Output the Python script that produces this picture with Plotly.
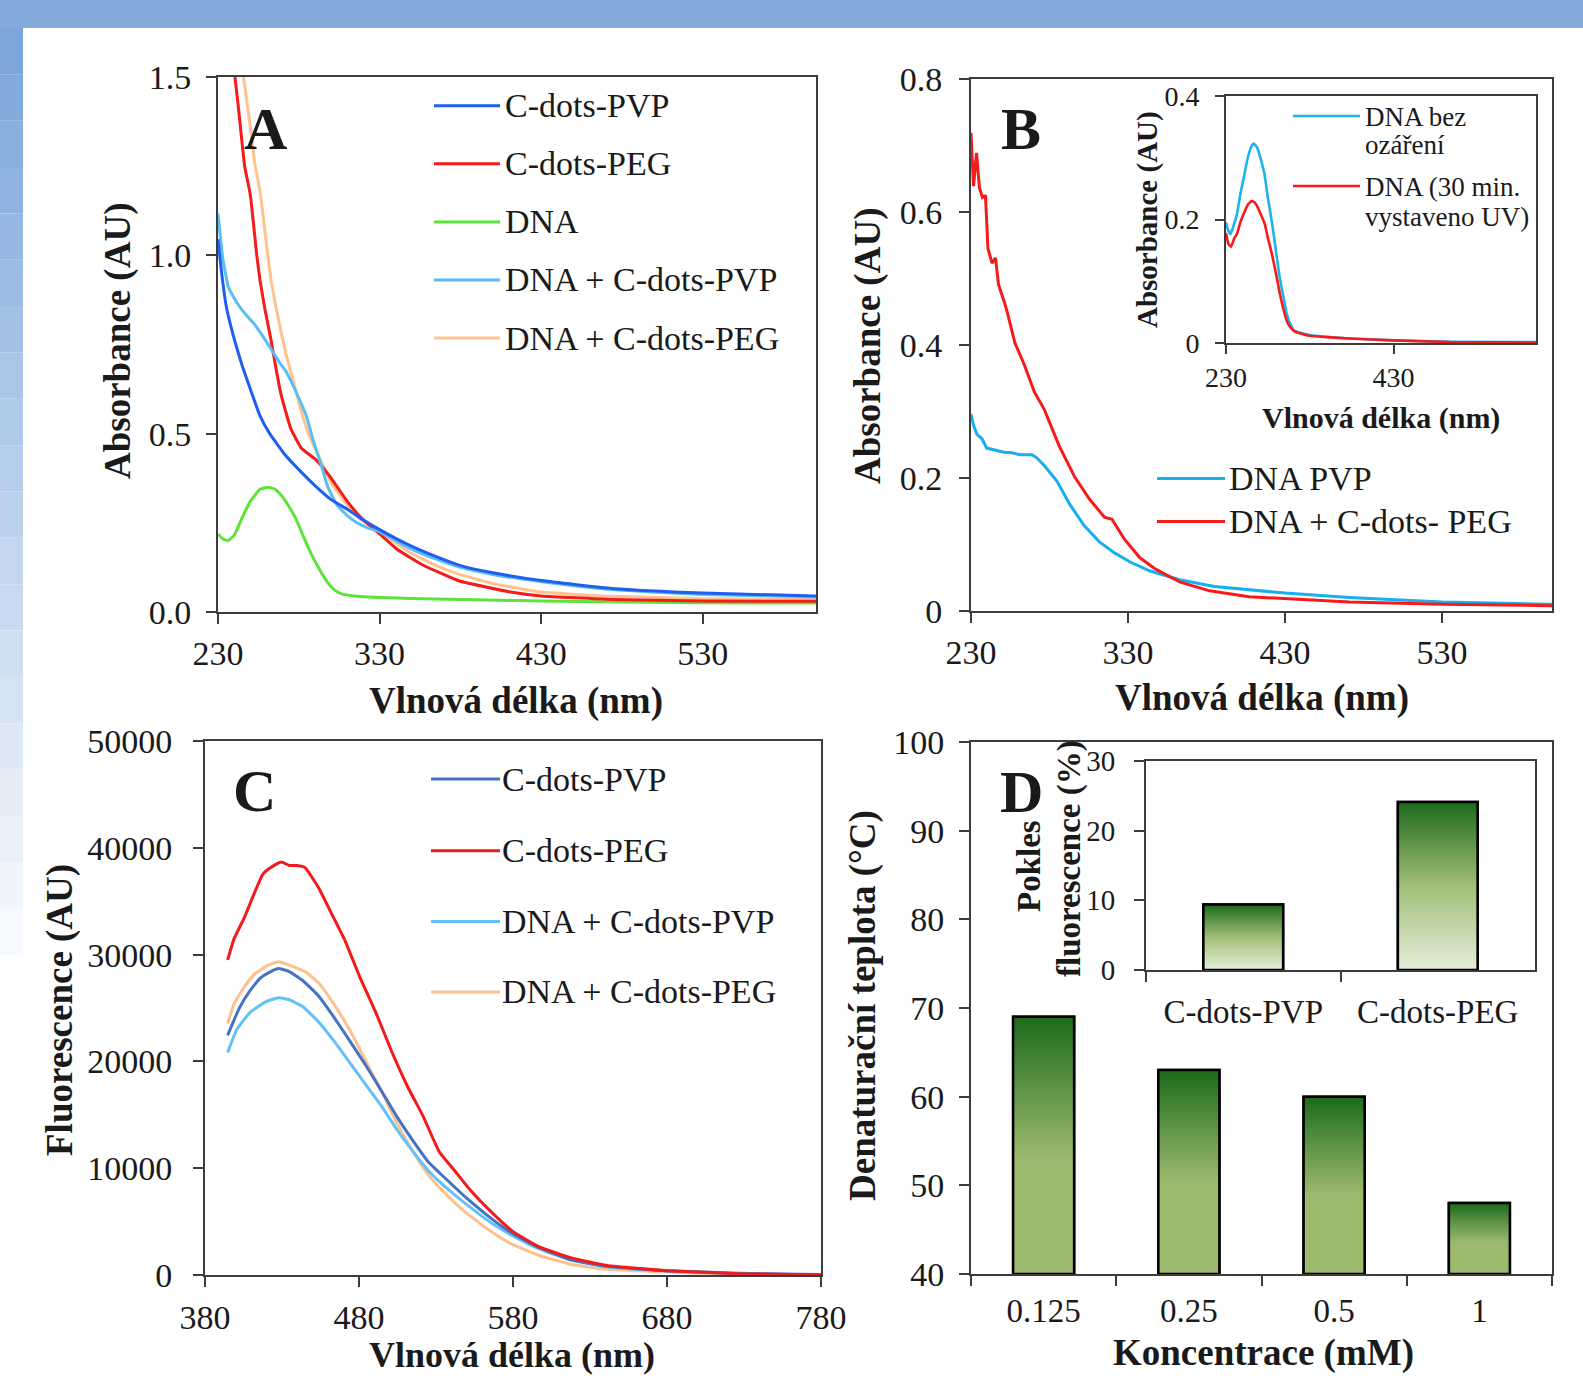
import plotly.graph_objects as go

W, H = 1583, 1381
FONT = "Liberation Serif, Times New Roman, serif"
AX = "#3c3c3c"
TXT = "#1a1a1a"

# ---------------- data ----------------
# Panel A : absorbance spectra
A_PVP_X = [230, 232, 235, 238, 241, 245, 250, 256, 262, 272, 282, 291, 300, 310, 320, 330, 348, 365, 380, 400, 430, 474, 530, 600]
A_PVP_Y = [1.045, 0.96, 0.86, 0.80, 0.75, 0.69, 0.625, 0.55, 0.50, 0.438, 0.39, 0.35, 0.315, 0.288, 0.258, 0.231, 0.188, 0.155, 0.13, 0.11, 0.088, 0.066, 0.053, 0.045]

A_PEG_X = [240.5, 242.5, 246.5, 250, 254, 256, 259, 262.5, 266, 269, 275, 281.5, 291, 300, 310, 319, 330, 341, 357, 379, 411, 430, 474, 530, 600]
A_PEG_Y = [1.5, 1.42, 1.25, 1.17, 1.0, 0.93, 0.85, 0.77, 0.68, 0.61, 0.515, 0.46, 0.425, 0.375, 0.31, 0.262, 0.219, 0.175, 0.131, 0.0875, 0.056, 0.045, 0.035, 0.031, 0.030]

A_DNA_X = [230, 233, 236, 240, 245, 250, 256, 261, 265, 269, 274, 278, 283, 288, 293, 297, 302, 307, 316, 348, 430, 530, 600]
A_DNA_Y = [0.219, 0.205, 0.20, 0.215, 0.265, 0.31, 0.344, 0.35, 0.345, 0.328, 0.295, 0.263, 0.21, 0.16, 0.118, 0.088, 0.062, 0.05, 0.044, 0.038, 0.031, 0.026, 0.025]

A_DNA_PVP_X = [230, 233, 236.5, 242, 248, 252, 256, 262.5, 268, 272, 278, 284.6, 289, 294, 298, 303.6, 310, 316, 323, 330, 348, 365, 380, 400, 430, 474, 530, 600]
A_DNA_PVP_Y = [1.117, 0.99, 0.91, 0.865, 0.83, 0.81, 0.785, 0.74, 0.70, 0.675, 0.62, 0.55, 0.48, 0.41, 0.35, 0.30, 0.27, 0.25, 0.235, 0.225, 0.18, 0.148, 0.125, 0.105, 0.085, 0.063, 0.049, 0.042]

A_DNA_PEG_X = [245.8, 250, 253, 256, 262.5, 267, 272, 277, 281.5, 286, 291, 300, 310, 319, 330, 348, 365, 379, 400, 430, 474, 530, 600]
A_DNA_PEG_Y = [1.5, 1.36, 1.25, 1.18, 0.94, 0.83, 0.725, 0.64, 0.5625, 0.50, 0.45, 0.3625, 0.30, 0.256, 0.225, 0.169, 0.13, 0.106, 0.08, 0.056, 0.044, 0.0375, 0.035]

A_NAMES = ["C-dots-PVP", "C-dots-PEG", "DNA", "DNA + C-dots-PVP", "DNA + C-dots-PEG"]
A_COLORS = ["#1F5FF0", "#F51B1B", "#5EE33A", "#5BBDF5", "#FFC38E"]

# Panel B : absorbance spectra
B_PVP_X = [230, 231.5, 233.8, 237, 240, 245, 251, 256, 261, 268.9, 272, 276.8, 284.8, 292.7, 302.3, 311.8, 321.4, 331, 343.7, 362.8, 385, 430, 471, 530, 600]
B_PVP_Y = [0.296, 0.28, 0.2655, 0.259, 0.245, 0.242, 0.2387, 0.238, 0.235, 0.235, 0.23, 0.2185, 0.195, 0.161, 0.1277, 0.104, 0.0874, 0.074, 0.0605, 0.047, 0.037, 0.0269, 0.0202, 0.0134, 0.010]

B_PEG_X = [230, 231.6, 233.5, 235.4, 237.3, 239.2, 240.8, 243.4, 245.6, 247.5, 251.3, 253, 258, 264, 270.4, 276.8, 286, 296, 305.5, 315, 319.8, 327.8, 337.3, 346.9, 362.8, 382, 407, 430, 471, 530, 600]
B_PEG_Y = [0.719, 0.639, 0.689, 0.636, 0.622, 0.625, 0.545, 0.523, 0.531, 0.491, 0.464, 0.45, 0.403, 0.37, 0.329, 0.3025, 0.249, 0.2017, 0.168, 0.141, 0.138, 0.1076, 0.0807, 0.0639, 0.0437, 0.0303, 0.0215, 0.0188, 0.0134, 0.010, 0.008]

B_NAMES = ["DNA PVP", "DNA + C-dots- PEG"]
B_COLORS = ["#19AEEE", "#F51B1B"]

# Inset of panel B
IB_BLUE_X = [230, 232, 235.4, 239, 243, 247, 252, 256, 261, 263, 267, 271, 276, 280, 285, 290, 294, 298.5, 302.8, 307, 311.8, 320, 329.7, 350, 377.5, 430, 497, 600]
IB_BLUE_Y = [0.195, 0.185, 0.176, 0.19, 0.2083, 0.24, 0.273, 0.30, 0.32, 0.323, 0.317, 0.30, 0.273, 0.235, 0.194, 0.145, 0.107, 0.075, 0.0456, 0.03, 0.02, 0.016, 0.013, 0.010, 0.0072, 0.0043, 0.002, 0.0015]
IB_RED_X = [230, 233, 236, 240, 243, 247, 252, 256, 260.7, 264, 267, 271, 276, 280, 285, 290, 294, 298.5, 302.8, 307, 311.8, 320, 329.7, 350, 377.5, 430, 497, 600]
IB_RED_Y = [0.178, 0.16, 0.156, 0.17, 0.176, 0.195, 0.212, 0.224, 0.23, 0.228, 0.222, 0.21, 0.194, 0.17, 0.143, 0.11, 0.0817, 0.055, 0.0347, 0.025, 0.0188, 0.015, 0.0116, 0.0095, 0.0072, 0.0043, 0.0015, 0.0007]
IB_COLORS = ["#1DB3F0", "#F51B1B"]

# Panel C : fluorescence spectra
C_PVP_X = [394.7, 402.2, 409, 415.9, 422.7, 427.8, 434.7, 443.2, 453.5, 463.7, 474, 484.2, 494.5, 504.7, 515, 525.2, 535.5, 549, 566, 580, 597, 617.4, 641, 680, 726.8, 780]
C_PVP_Y = [22440, 24960, 26580, 27800, 28410, 28690, 28410, 27600, 26180, 24150, 21920, 19680, 17250, 14810, 12580, 10550, 9130, 7310, 5280, 3860, 2560, 1420, 810, 400, 160, 40]

C_PEG_X = [394.7, 398.8, 405.6, 412.5, 417.6, 422.7, 429.5, 434.7, 439.8, 444.9, 453.5, 462, 470.5, 480.8, 491, 501.3, 511.5, 521.8, 532, 542.3, 552.5, 566, 580, 597, 617.4, 641, 680, 726.8, 780]
C_PEG_Y = [29500, 31450, 33480, 35920, 37540, 38150, 38680, 38350, 38350, 38150, 36320, 33890, 31450, 27800, 24550, 20900, 17650, 14810, 11570, 9740, 7910, 5880, 4060, 2640, 1620, 890, 400, 120, 0]

C_DNA_PVP_X = [394.7, 400.5, 409, 419.3, 427.8, 434.7, 443.2, 453.5, 463.7, 474, 484.2, 494.5, 504.7, 515, 525.2, 535.5, 549, 566, 580, 597, 617.4, 641, 680, 726.8, 780]
C_DNA_PVP_Y = [20820, 22930, 24550, 25570, 25970, 25770, 25160, 23740, 21920, 19890, 17860, 15830, 13600, 11570, 9740, 8320, 6700, 4870, 3650, 2440, 1420, 770, 370, 120, 0]

C_DNA_PEG_X = [394.7, 398.8, 405.6, 412.5, 421, 427.8, 434.7, 444.9, 453.5, 463.7, 474, 484.2, 494.5, 504.7, 515, 525.2, 535.5, 549, 566, 580, 597, 617.4, 641, 680, 726.8, 780]
C_DNA_PEG_Y = [23540, 25370, 26990, 28210, 29020, 29340, 29020, 28410, 27390, 25370, 22930, 20090, 17250, 14200, 11570, 9330, 7710, 5880, 4060, 2840, 1830, 1010, 530, 280, 80, 0]

C_NAMES = ["C-dots-PVP", "C-dots-PEG", "DNA + C-dots-PVP", "DNA + C-dots-PEG"]
C_COLORS = ["#4472C4", "#F21A1A", "#63C1F8", "#FCC18C"]

# Panel D : denaturation temperature
D_CONC = ["0.125", "0.25", "0.5", "1"]
D_TEMP = [69, 63, 60, 48]
D_YMIN, D_YMAX = 40, 100

# Inset of panel D : fluorescence decrease
ID_CAT = ["C-dots-PVP", "C-dots-PEG"]
ID_DROP = [9.4, 24.1]
ID_YMIN, ID_YMAX = 0, 30

# ---------------- helpers ----------------
def dx(a, b):
    return [a / W, b / W]

def dy(top, bot):
    return [1 - bot / H, 1 - top / H]

def axis(domain, rng, fsize=34, lw=2, tl=10, standoff=10, **kw):
    d = dict(domain=domain, showgrid=False, zeroline=False, showline=True,
             mirror=True, linecolor=AX, linewidth=lw, ticks="outside",
             ticklen=tl, tickwidth=lw, tickcolor=AX,
             tickfont=dict(family=FONT, size=fsize, color=TXT),
             ticklabelstandoff=standoff, fixedrange=True, automargin=False)
    if rng is not None:
        d["range"] = rng
    d.update(kw)
    return d

fig = go.Figure()

def line_trace(x, y, color, name, xa, ya, width=3, shape="spline"):
    fig.add_trace(go.Scatter(x=x, y=y, mode="lines", name=name, showlegend=False,
                             line=dict(color=color, width=width, shape=shape, smoothing=0.4),
                             xaxis=xa, yaxis=ya, hoverinfo="x+y+name"))

# Panel A traces
A_SERIES = [(A_PVP_X, A_PVP_Y), (A_PEG_X, A_PEG_Y), (A_DNA_X, A_DNA_Y),
            (A_DNA_PVP_X, A_DNA_PVP_Y), (A_DNA_PEG_X, A_DNA_PEG_Y)]
for i in [2, 4, 1, 3, 0]:
    line_trace(A_SERIES[i][0], A_SERIES[i][1], A_COLORS[i], A_NAMES[i], "x", "y")

# Panel B traces
line_trace(B_PVP_X, B_PVP_Y, B_COLORS[0], B_NAMES[0], "x2", "y2", shape="linear")
line_trace(B_PEG_X, B_PEG_Y, B_COLORS[1], B_NAMES[1], "x2", "y2", shape="linear")

# Inset B traces
line_trace(IB_BLUE_X, IB_BLUE_Y, IB_COLORS[0], "DNA bez ozáření", "x3", "y3", width=2.6)
line_trace(IB_RED_X, IB_RED_Y, IB_COLORS[1], "DNA (30 min. vystaveno UV)", "x3", "y3", width=2.6)

# Panel C traces
C_SERIES = [(C_PVP_X, C_PVP_Y), (C_PEG_X, C_PEG_Y), (C_DNA_PVP_X, C_DNA_PVP_Y), (C_DNA_PEG_X, C_DNA_PEG_Y)]
for i in [3, 2, 0, 1]:
    line_trace(C_SERIES[i][0], C_SERIES[i][1], C_COLORS[i], C_NAMES[i], "x4", "y4")

# Panel D bars (gradient filled)
MAIN_SCALE = [[0, "#9cb96e"], [0.45, "#9cb96e"], [0.72, "#5f9446"], [1, "#1c6a1c"]]
INSET_SCALE = [[0, "#e3efda"], [0.5, "#a2bf77"], [1, "#1c6a1c"]]
BAR_W_MAIN = 0.42
BAR_W_INSET = 0.41

fig.add_trace(go.Bar(x=D_CONC, y=D_TEMP, width=BAR_W_MAIN, marker=dict(color="#9cb96e", line=dict(color="black", width=2.5)),
                     xaxis="x5", yaxis="y5", showlegend=False, name="Denaturační teplota"))
for i, v in enumerate(D_TEMP):
    h = BAR_W_MAIN / 2
    fig.add_trace(go.Scatter(x=[i - h, i - h, i + h, i + h, i - h], y=[D_YMIN, v, v, D_YMIN, D_YMIN],
                             mode="lines", fill="toself", line=dict(color="black", width=2.5),
                             fillgradient=dict(type="vertical", colorscale=MAIN_SCALE),
                             xaxis="x7", yaxis="y5", showlegend=False, hoverinfo="skip"))

fig.add_trace(go.Bar(x=ID_CAT, y=ID_DROP, width=BAR_W_INSET, marker=dict(color="#a2bf77", line=dict(color="black", width=2.5)),
                     xaxis="x6", yaxis="y6", showlegend=False, name="Pokles fluorescence"))
for i, v in enumerate(ID_DROP):
    h = BAR_W_INSET / 2
    fig.add_trace(go.Scatter(x=[i - h, i - h, i + h, i + h, i - h], y=[ID_YMIN, v, v, ID_YMIN, ID_YMIN],
                             mode="lines", fill="toself", line=dict(color="black", width=2.5),
                             fillgradient=dict(type="vertical", colorscale=INSET_SCALE),
                             xaxis="x8", yaxis="y6", showlegend=False, hoverinfo="skip"))

# ---------------- axes ----------------
layout = dict(
    width=W, height=H, margin=dict(l=0, r=0, t=0, b=0, pad=0, autoexpand=False),
    paper_bgcolor="white", plot_bgcolor="white", showlegend=False,
    font=dict(family=FONT, color=TXT),
    xaxis=axis(dx(218, 816), [230, 600], tickvals=[230, 330, 430, 530], anchor="y", standoff=0),
    yaxis=axis(dy(77, 612), [0, 1.5], tickvals=[0, 0.5, 1.0, 1.5], tickformat=".1f", anchor="x", standoff=8),
    xaxis2=axis(dx(971, 1552), [230, 600], tickvals=[230, 330, 430, 530], anchor="y2", standoff=0),
    yaxis2=axis(dy(79, 611), [0, 0.8], tickvals=[0, 0.2, 0.4, 0.6, 0.8], ticktext=["0", "0.2", "0.4", "0.6", "0.8"], anchor="x2", standoff=10),
    xaxis3=axis(dx(1226, 1536), [230, 600], fsize=28, lw=1.6, tl=9, tickvals=[230, 430], anchor="y3", standoff=0),
    yaxis3=axis(dy(96, 343), [0, 0.4], fsize=28, lw=1.6, tl=9, tickvals=[0, 0.2, 0.4], ticktext=["0", "0.2", "0.4"], anchor="x3", standoff=10),
    xaxis4=axis(dx(205, 821), [380, 780], tickvals=[380, 480, 580, 680, 780], anchor="y4", standoff=1),
    yaxis4=axis(dy(741, 1275), [0, 50000], tickvals=[0, 10000, 20000, 30000, 40000, 50000], tickformat="d", anchor="x4", standoff=14),
    xaxis5=axis(dx(971, 1552), None, fsize=33, type="category", tickson="boundaries", anchor="y5", standoff=6),
    yaxis5=axis(dy(742, 1274), [D_YMIN, D_YMAX], dtick=10, anchor="x5", standoff=8),
    xaxis6=axis(dx(1146, 1535), None, fsize=33, lw=1.8, type="category", tickson="boundaries", anchor="y6", standoff=11),
    yaxis6=axis(dy(761, 970), [ID_YMIN, ID_YMAX], fsize=29, lw=1.8, dtick=10, anchor="x6", standoff=13),
    xaxis7=dict(overlaying="x5", range=[-0.5, len(D_CONC) - 0.5], visible=False, anchor="y5", fixedrange=True),
    xaxis8=dict(overlaying="x6", range=[-0.5, len(ID_CAT) - 0.5], visible=False, anchor="y6", fixedrange=True),
)
fig.update_layout(**layout)

# ---------------- background frame ----------------
shapes = []
shapes.append(dict(type="rect", xref="paper", yref="paper", x0=0, x1=1, y0=1 - 28 / H, y1=1,
                   fillcolor="#82AADB", line=dict(width=0), layer="below"))
n_bands = 20
top, bot = 28, 955
c0 = (124, 166, 218)
c1 = (246, 249, 253)
for k in range(n_bands):
    t = k / (n_bands - 1)
    col = tuple(int(round(c0[j] + (c1[j] - c0[j]) * t)) for j in range(3))
    y_a = top + (bot - top) * k / n_bands
    y_b = top + (bot - top) * (k + 1) / n_bands
    shapes.append(dict(type="rect", xref="paper", yref="paper", x0=0, x1=23 / W,
                       y0=1 - y_b / H, y1=1 - y_a / H,
                       fillcolor="rgb(%d,%d,%d)" % col, line=dict(width=0), layer="below"))

annotations = []

def ann(text, px, py, size, bold=False, angle=0, xanchor="center"):
    t = "<b>%s</b>" % text if bold else text
    annotations.append(dict(x=px / W, y=1 - py / H, xref="paper", yref="paper", text=t,
                            showarrow=False, textangle=angle, xanchor=xanchor, yanchor="middle",
                            font=dict(family=FONT, size=size, color=TXT)))

def legend(rows, names, colors, x0, x1, xt, size, lw=3):
    for yy, nm, col in zip(rows, names, colors):
        shapes.append(dict(type="line", xref="paper", yref="paper", x0=x0 / W, x1=x1 / W,
                           y0=1 - yy / H, y1=1 - yy / H, line=dict(color=col, width=lw)))
        ann(nm, xt, yy, size, xanchor="left")

# legends
legend([105.8, 163.8, 221.9, 279.9, 338], A_NAMES, A_COLORS, 434, 500, 503, 34)
legend([478.6, 521.4], B_NAMES, B_COLORS, 1157, 1225, 1227, 34)
legend([779, 850.7, 921.5, 991.9], C_NAMES, C_COLORS, 431, 500, 500, 34)
# inset B legend (two-line labels)
for yy, col in zip([116, 186], IB_COLORS):
    shapes.append(dict(type="line", xref="paper", yref="paper", x0=1293 / W, x1=1360 / W,
                       y0=1 - yy / H, y1=1 - yy / H, line=dict(color=col, width=2.6)))
ann("DNA bez", 1363, 116.7, 27, xanchor="left")
ann("ozáření", 1363, 145, 27, xanchor="left")
ann("DNA (30 min.", 1363, 186.7, 27, xanchor="left")
ann("vystaveno UV)", 1363, 216.7, 27, xanchor="left")

# axis titles
ann("Absorbance (AU)", 118, 341, 37, bold=True, angle=-90)
ann("Vlnová délka (nm)", 516, 701, 37, bold=True)
ann("Absorbance (AU)", 868, 346, 37, bold=True, angle=-90)
ann("Vlnová délka (nm)", 1262, 698, 37, bold=True)
ann("Absorbance (AU)", 1147, 220, 29, bold=True, angle=-90)
ann("Vlnová délka (nm)", 1381, 418, 30, bold=True)
ann("Fluorescence (AU)", 60, 1010, 37, bold=True, angle=-90)
ann("Vlnová délka (nm)", 512, 1355, 36, bold=True)
ann("Denaturační teplota (°C)", 863, 1006, 37, bold=True, angle=-90)
ann("Koncentrace (mM)", 1263, 1353, 37, bold=True)
ann("Pokles", 1029, 866, 33, bold=True, angle=-90)
ann("fluorescence (%)", 1069, 859, 33, bold=True, angle=-90)

# panel letters
ann("A", 265, 129, 60, bold=True)
ann("B", 1021, 129, 60, bold=True)
ann("C", 254, 791, 60, bold=True)
ann("D", 1021, 792, 60, bold=True)

fig.update_layout(shapes=shapes, annotations=annotations)
fig.write_html("out.html",
               config={"displayModeBar": False},
               post_script="document.body.style.margin='0px';document.body.style.padding='0px';document.body.style.overflow='hidden';")
